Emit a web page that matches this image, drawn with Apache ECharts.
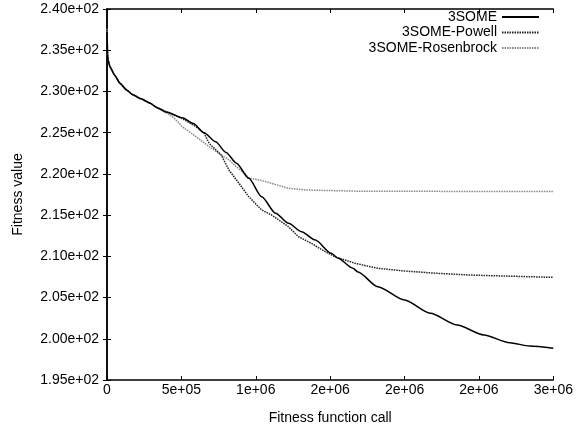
<!DOCTYPE html>
<html><head><meta charset="utf-8">
<script src="https://cdn.jsdelivr.net/npm/echarts@6/dist/echarts.min.js"></script>
<style>html,body{margin:0;padding:0;background:#fff}#c{width:576px;height:430px}</style>
</head><body><div id="c"></div>
<script>
var seriesNames = ['3SOME', '3SOME-Powell', '3SOME-Rosenbrock'];
var xTickLabels = ['0', '5e+05', '1e+06', '2e+06', '2e+06', '2e+06', '3e+06'];
var yTickLabels = ['1.95e+02','2.00e+02','2.05e+02','2.10e+02','2.15e+02','2.20e+02','2.25e+02','2.30e+02','2.35e+02','2.40e+02'];

var x3some = [0, 4000, 7000, 20000, 50000, 87000, 130000, 173000, 230000, 287000, 340000, 400000, 507000, 580000, 653000, 730000, 800000, 870000, 953000, 1040000, 1133000, 1220000, 1307000, 1400000, 1507000, 1553000, 1653000, 1687000, 1820000, 2000000, 2173000, 2353000, 2533000, 2707000, 2840000, 3000000];
var y3some = [237.2, 234.5, 233.8, 233.0, 232.0, 231.0, 230.2, 229.6, 229.1, 228.6, 228.0, 227.5, 226.8, 226.1, 225.0, 223.9, 222.6, 221.3, 219.46, 217.23, 215.22, 214.0, 212.99, 211.98, 210.37, 209.76, 208.55, 208.1, 206.31, 204.7, 203.09, 201.67, 200.46, 199.52, 199.12, 198.84];

var xPowell = [0, 4000, 7000, 20000, 50000, 87000, 130000, 173000, 230000, 287000, 340000, 400000, 507000, 600000, 653000, 687000, 767000, 820000, 887000, 953000, 1040000, 1107000, 1220000, 1287000, 1373000, 1467000, 1533000, 1667000, 1820000, 2000000, 2220000, 2440000, 2667000, 3000000];
var yPowell = [237.2, 234.5, 233.8, 233.0, 232.0, 231.0, 230.2, 229.6, 229.1, 228.6, 228.0, 227.5, 226.7, 225.7, 224.9, 223.7, 222.3, 220.47, 218.86, 217.23, 215.62, 215.01, 213.59, 212.38, 211.58, 210.56, 209.95, 209.15, 208.55, 208.22, 207.94, 207.73, 207.61, 207.45];

var xRosen = [0, 4000, 7000, 20000, 50000, 87000, 130000, 173000, 230000, 287000, 340000, 400000, 450000, 507000, 600000, 687000, 767000, 820000, 867000, 933000, 953000, 1040000, 1107000, 1220000, 1333000, 1687000, 3000000];
var yRosen = [237.6, 234.5, 233.8, 233.0, 232.0, 231.0, 230.2, 229.6, 229.1, 228.6, 228.0, 227.4, 226.8, 225.7, 224.5, 223.3, 222.3, 221.7, 220.9, 219.9, 219.5, 219.2, 218.85, 218.25, 218.05, 217.9, 217.85];

function zip(a, b) { return a.map(function (v, i) { return [v, b[i]]; }); }

var chart = echarts.init(document.getElementById('c'), null, {renderer: 'canvas'});
var font = 'Liberation Sans, Arial, sans-serif';
var fs = 14;
var tickStyle = {show: true, inside: true, length: 4, lineStyle: {color: '#000', width: 1}};
var lineAx = {show: true, lineStyle: {color: '#000', width: 1.5}};
chart.setOption({
  animation: false,
  backgroundColor: '#fff',
  grid: {left: 107, right: 19, top: 9, bottom: 50, containLabel: false},
  legend: {
    show: true, orient: 'vertical', right: 36, top: 10, align: 'right', padding: 0,
    itemWidth: 37, itemHeight: 14, itemGap: 1.5,
    itemStyle: {opacity: 0},
    textStyle: {fontFamily: font, fontSize: fs, color: '#000'},
    data: seriesNames
  },
  xAxis: [{
    type: 'value', min: 0, max: 3000000, interval: 500000,
    axisLine: lineAx, axisTick: tickStyle, splitLine: {show: false},
    axisLabel: {color: '#000', fontFamily: font, fontSize: fs, margin: 3,
      formatter: function (v) { return xTickLabels[Math.round(v / 500000)]; }},
    name: 'Fitness function call', nameLocation: 'middle', nameGap: 31,
    nameTextStyle: {color: '#000', fontFamily: font, fontSize: fs}
  }, {
    type: 'value', position: 'top', min: 0, max: 3000000, interval: 500000,
    axisLine: lineAx, axisTick: tickStyle, axisLabel: {show: false}, splitLine: {show: false}
  }],
  yAxis: [{
    type: 'value', min: 195, max: 240, interval: 5,
    axisLine: lineAx, axisTick: tickStyle, splitLine: {show: false},
    axisLabel: {color: '#000', fontFamily: font, fontSize: fs, margin: 8,
      formatter: function (v) { return yTickLabels[Math.round((v - 195) / 5)]; }},
    name: 'Fitness value', nameLocation: 'middle', nameGap: 82, nameRotate: 90,
    nameTextStyle: {color: '#000', fontFamily: font, fontSize: fs}
  }, {
    type: 'value', position: 'right', min: 195, max: 240, interval: 5,
    axisLine: lineAx, axisTick: tickStyle, axisLabel: {show: false}, splitLine: {show: false}
  }],
  series: [{
    name: seriesNames[0], type: 'line', symbol: 'none', smooth: 0.25, smoothMonotone: 'x',
    data: zip(x3some, y3some), z: 3,
    lineStyle: {color: '#000', width: 1.5, type: 'solid'}, itemStyle: {color: '#000'}
  }, {
    name: seriesNames[1], type: 'line', symbol: 'none', smooth: false,
    data: zip(xPowell, yPowell), z: 2,
    lineStyle: {color: '#222', width: 1.5, type: [1.5, 1]}, itemStyle: {color: '#222'}
  }, {
    name: seriesNames[2], type: 'line', symbol: 'none', smooth: false,
    data: zip(xRosen, yRosen), z: 1,
    lineStyle: {color: '#888', width: 1.5, type: [1.5, 1]}, itemStyle: {color: '#888'}
  }]
});
</script></body></html>
